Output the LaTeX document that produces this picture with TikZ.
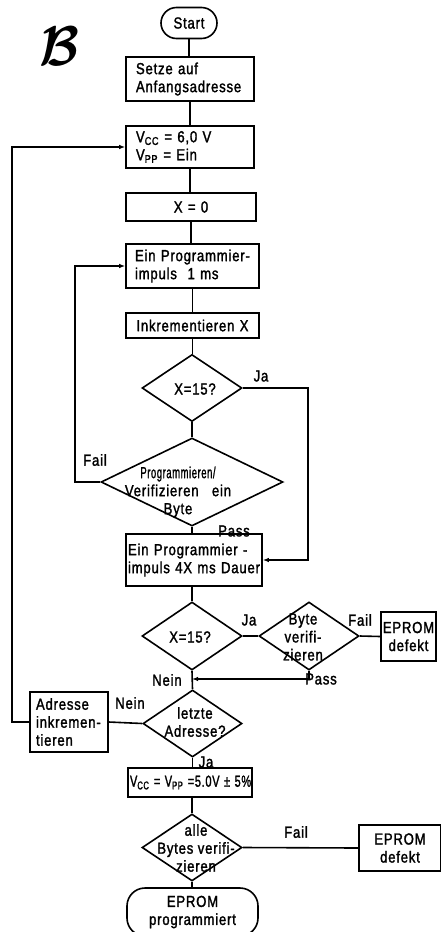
\documentclass[tikz,border=0pt]{standalone}
\usepackage{fontspec}
\setmainfont{Liberation Sans}[FakeStretch=0.82,LetterSpace=5,FakeBold=1.6]
\usetikzlibrary{shapes.geometric,arrows.meta}
\tikzset{
  every node/.style={font=\fontsize{16}{18}\selectfont},
  lw/.style={line width=1.6pt},
  flow/.style={lw},
  arr/.style={lw,-{Latex[length=6pt,width=4.5pt]}},
  term/.style={draw,lw,rectangle,inner sep=0pt,align=center},
  box/.style={draw,lw,rectangle,inner ysep=0pt,align=left},
  cbox/.style={draw,lw,rectangle,inner ysep=0pt,inner xsep=2pt,align=center},
  dia/.style={draw,lw,diamond,inner sep=0pt},
  dtext/.style={inner sep=0pt,align=center},
  tag/.style={inner sep=0pt}
}
\begin{document}
\begin{tikzpicture}[x=1pt,y=-1pt]
\useasboundingbox (0,0) rectangle (441,932);

% heading letter
\node[font=\fontsize{10}{12}\selectfont] (bigB) at (60,46) {\scalebox{5.2}[5.6]{\boldmath$\mathcal{B}$}};

% main column
\node[term,rounded corners=15.5pt,minimum width=56pt,minimum height=31pt] (start) at (189,23) {Start};
\node[box,inner xsep=10pt,text width=108pt,minimum height=44pt] (setze) at (190,79) {Setze auf\\Anfangsadresse};
\node[box,inner xsep=10pt,text width=108pt,minimum height=42pt] (vcc) at (190,147) {V\textsubscript{CC} = 6,0 V\\V\textsubscript{PP} = Ein};
\node[cbox,text width=126pt,minimum height=28pt] (x0) at (191,207) {X = 0};
\node[box,inner xsep=9pt,text width=115pt,minimum height=44pt] (imp1) at (192.5,266) {Ein Programmier-\\impuls\ \ 1 ms};
\node[cbox,text width=129pt,minimum height=25pt] (inkr) at (192.5,325.5) {Inkrementieren X};
\node[dia,minimum width=100pt,minimum height=67pt] (d1) at (192,388) {};
\node[dtext] (d1t) at (195,389) {X=15?};
\node[dia,minimum width=182pt,minimum height=88pt] (d2) at (192,482) {};
\node[dtext] (d2t) at (178,492) {\scalebox{0.72}[1]{Programmieren/}\\Verifizieren\ \ \ ein\\Byte};
\node[box,inner xsep=2pt,text width=132pt,minimum height=52pt] (imp4) at (194,560) {Ein Programmier -\\impuls 4X ms Dauer};
\node[dia,minimum width=100pt,minimum height=68pt] (d3) at (192,636) {};
\node[dtext] (d3t) at (190,637) {X=15?};
\node[dia,minimum width=100pt,minimum height=68pt] (dbyte) at (309,636) {};
\node[dtext] (dbytet) at (303,637) {Byte\\verifi-\\zieren};
\node[cbox,inner xsep=1pt,text width=53pt,minimum height=49pt] (def1) at (408.5,636.5) {EPROM\\defekt};
\node[dia,minimum width=99pt,minimum height=67pt] (d4) at (192.5,723.5) {};
\node[dtext] (d4t) at (195,722) {letzte\\Adresse?};
\node[box,inner xsep=6pt,text width=66pt,minimum height=60pt] (adr) at (69,722) {Adresse\\inkremen-\\tieren};
\node[cbox,text width=120pt,minimum height=29pt] (vcc2) at (190,782.5) {\scalebox{0.84}[1]{V\textsubscript{CC} = V\textsubscript{PP} =5.0V ± 5\%}};
\node[dia,minimum width=100pt,minimum height=67pt] (d5) at (192,847.5) {};
\node[dtext] (d5t) at (196,848) {alle\\Bytes verifi-\\zieren};
\node[cbox,text width=78pt,minimum height=46pt] (def2) at (400,848) {EPROM\\defekt};
\node[term,rounded corners=18pt,minimum width=131pt,minimum height=48pt] (endt) at (192.5,912) {EPROM\\programmiert};

% helper coordinates for the side returns
\coordinate (outer) at (12,0);
\coordinate (failx) at (75,0);
\coordinate (jax) at (308,0);
\coordinate (pj) at (192,679);

% straight flow
\draw[flow] (start.south) -- (start.south |- setze.north);
\draw[flow] (setze.south) -- (setze.south |- vcc.north);
\draw[flow] (vcc.south) -- (vcc.south |- x0.north);
\draw[flow] (x0.south) -- (x0.south |- imp1.north);
\draw[flow] (imp1.south) -- (imp1.south |- inkr.north);
\draw[flow] (inkr.south) -- (inkr.south |- d1.north);
\draw[flow] (d1.south) -- (d2.north);
\draw[flow] (d2.south) -- (d2.south |- imp4.north);
\draw[flow] (imp4.south -| d3.north) -- (d3.north);
\draw[flow] (d3.south) -- (d4.north);
\draw[flow] (d4.south) -- (d4.south |- vcc2.north);
\draw[flow] (vcc2.south -| d5.north) -- (d5.north);
\draw[flow] (d5.south) -- (d5.south |- endt.north);

% branches
\draw[arr] (d1.east) -| (jax |- imp4.east) -- (imp4.east);
\draw[arr] (d2.west) -| (failx |- imp1.west) -- (imp1.west);
\draw[flow] (d3.east) -- (dbyte.west);
\draw[flow] (dbyte.east) -- (def1.west);
\draw[arr] (dbyte.south) |- (pj);
\draw[flow] (d4.west) -- (adr.east);
\draw[arr] (adr.west) -| (outer |- vcc.west) -- (vcc.west);
\draw[flow] (d5.east) -- (def2.west);

% branch labels
\node[tag] (ja1) at (261,376) {Ja};
\node[tag] (fail1) at (95,460) {Fail};
\node[tag] (pass1) at (234,531) {Pass};
\node[tag] (ja2) at (249,620) {Ja};
\node[tag] (fail2) at (360,620) {Fail};
\node[tag] (pass2) at (321,679) {Pass};
\node[tag] (nein1) at (167,680) {Nein};
\node[tag] (nein2) at (130,703) {Nein};
\node[tag] (ja3) at (206,762) {Ja};
\node[tag] (fail3) at (296,832) {Fail};
\end{tikzpicture}
\end{document}
